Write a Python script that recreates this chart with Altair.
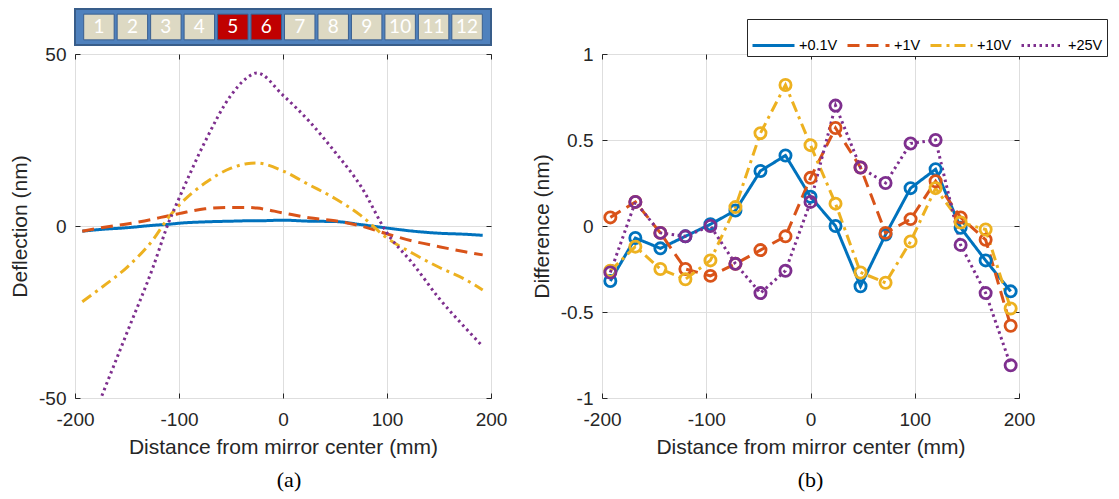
import altair as alt
import pandas as pd

# ---------------- data ----------------
series_names = ["+0.1V", "+1V", "+10V", "+25V"]
series_colors = ["#0072BD", "#D95319", "#EDB120", "#7E2F8E"]
series_dashes = [[1, 0], [12, 7], [11, 5, 3, 5], [2.5, 3.5]]

# panel (a): deflection profiles
defl_x = [-193, -175, -150, -125, -110, -100, -75, -50, -35, -25, 0, 25, 50, 75, 100, 125, 150, 175, 192]
defl_01 = [-1.5, -1.0, -0.5, 0.2, 0.5, 0.8, 1.2, 1.4, 1.5, 1.5, 1.7, 1.4, 1.3, 0.4, -0.6, -1.5, -2.1, -2.4, -2.7]
defl_1 = [-1.5, -0.5, 0.6, 2.0, 3.0, 3.6, 5.0, 5.4, 5.4, 5.2, 3.8, 2.4, 1.5, 0.0, -2.3, -4.4, -6.0, -7.5, -8.4]
defl_10 = [-22, -18, -12, -4, 2.5, 6, 12.5, 16.8, 18.1, 18.3, 16, 12, 8, 3, -3.5, -8, -12, -15.5, -18.6]
defl_25 = [-64, -50, -31, -12, 1, 8, 24.5, 38, 43, 44.5, 38, 30.5, 21.5, 11.5, -2, -11, -21, -29.5, -35]

# panel (b): differences
diff_x = [-192, -168, -144, -120, -96, -72, -48, -24, 0, 24, 48, 72, 96, 120, 144, 168, 192]
diff_01 = [-0.32, -0.07, -0.13, -0.06, 0.01, 0.09, 0.32, 0.41, 0.17, 0.00, -0.35, -0.05, 0.22, 0.33, -0.01, -0.20, -0.38]
diff_1 = [0.05, 0.14, -0.04, -0.25, -0.29, -0.22, -0.14, -0.06, 0.28, 0.57, 0.34, -0.04, 0.04, 0.26, 0.05, -0.08, -0.58]
diff_10 = [-0.26, -0.12, -0.25, -0.31, -0.20, 0.11, 0.54, 0.82, 0.47, 0.13, -0.27, -0.33, -0.09, 0.22, 0.02, -0.02, -0.48]
diff_25 = [-0.27, 0.14, -0.04, -0.06, 0.00, -0.22, -0.39, -0.26, 0.14, 0.70, 0.34, 0.25, 0.48, 0.50, -0.11, -0.39, -0.81]

# actuator indicator
cells = list(range(1, 13))
cell_state = ["off", "off", "off", "off", "on", "on", "off", "off", "off", "off", "off", "off"]

x_ticks = [-200, -100, 0, 100, 200]
defl_ticks = [-50, 0, 50]
diff_ticks = [-1, -0.5, 0, 0.5, 1]

# ---------------- tables ----------------
def long_table(xs, ys_list):
    rows = []
    for name, ys in zip(series_names, ys_list):
        for xv, yv in zip(xs, ys):
            rows.append({"x": xv, "y": yv, "series": name})
    return pd.DataFrame(rows)

defl_df = long_table(defl_x, [defl_01, defl_1, defl_10, defl_25])
diff_df = long_table(diff_x, [diff_01, diff_1, diff_10, diff_25])
bar_df = pd.DataFrame({"cell": cells, "state": cell_state, "row": ["r"] * len(cells)})

FONT = "Liberation Sans"
INK = "#262626"
GRID = "#dedede"

color_scale = alt.Scale(domain=series_names, range=series_colors)
dash_scale = alt.Scale(domain=series_names, range=series_dashes)


def bottom_axis(title):
    return alt.Axis(values=x_ticks, grid=True, gridColor=GRID, gridWidth=1, domain=False,
                    tickSize=5, offset=-5, tickColor=INK, tickWidth=1,
                    labelFont=FONT, labelFontSize=19, labelColor=INK, labelPadding=12,
                    labelExpr="datum.value + ''", labelFlush=False,
                    title=title, titleFont=FONT, titleFontSize=21, titleFontWeight="normal",
                    titleColor=INK, titlePadding=7)


def left_axis(title, values):
    return alt.Axis(values=values, grid=True, gridColor=GRID, gridWidth=1, domain=False,
                    tickSize=5, offset=-5, tickColor=INK, tickWidth=1,
                    labelFont=FONT, labelFontSize=19, labelColor=INK, labelPadding=9,
                    labelExpr="datum.value + ''", labelFlush=False,
                    title=title, titleFont=FONT, titleFontSize=21, titleFontWeight="normal",
                    titleColor=INK, titlePadding=8)


def inner_axis(orient, values):
    return alt.Axis(orient=orient, values=values, grid=False, domain=False, labels=False,
                    tickSize=5, offset=-5, tickColor=INK, tickWidth=1, title=None)


frame = alt.ViewBackground(fill="white", stroke=INK, strokeWidth=1)
PW, PH = 416, 344

# ---------------- panel (a) ----------------
left_lines = alt.Chart(defl_df).mark_line(strokeWidth=3, clip=True, interpolate="monotone").encode(
    x=alt.X("x:Q", scale=alt.Scale(domain=[-200, 200], nice=False), axis=bottom_axis("Distance from mirror center (mm)")),
    y=alt.Y("y:Q", scale=alt.Scale(domain=[-50, 50], nice=False), axis=left_axis("Deflection (nm)", defl_ticks)),
    color=alt.Color("series:N", scale=color_scale, legend=None),
    strokeDash=alt.StrokeDash("series:N", scale=dash_scale, legend=None),
)
left_ticks = alt.Chart(defl_df).mark_point(opacity=0, clip=True).encode(
    x=alt.X("x:Q", scale=alt.Scale(domain=[-200, 200], nice=False), axis=inner_axis("top", x_ticks)),
    y=alt.Y("y:Q", scale=alt.Scale(domain=[-50, 50], nice=False), axis=inner_axis("right", defl_ticks)),
)
left = alt.layer(left_lines, left_ticks).resolve_axis(x="independent", y="independent").properties(
    width=PW, height=PH, view=frame,
    title=alt.TitleParams("(a)", orient="bottom", frame="group", font="Liberation Serif", fontSize=22,
                          fontWeight="normal", color="black", offset=13, dx=6),
)

# ---------------- panel (b) ----------------
legend = alt.Legend(orient="none", legendX=145, legendY=-35, direction="horizontal", title=None,
                    symbolType="stroke", symbolSize=1764, symbolStrokeWidth=3,
                    labelFont=FONT, labelFontSize=14.5, labelColor="black", labelOffset=3,
                    columnPadding=3, padding=4, fillColor="white", strokeColor=INK)

right_lines = alt.Chart(diff_df).mark_line(strokeWidth=3).encode(
    x=alt.X("x:Q", scale=alt.Scale(domain=[-200, 200], nice=False), axis=bottom_axis("Distance from mirror center (mm)")),
    y=alt.Y("y:Q", scale=alt.Scale(domain=[-1, 1], nice=False), axis=left_axis("Difference (nm)", diff_ticks)),
    color=alt.Color("series:N", scale=color_scale, legend=legend),
    strokeDash=alt.StrokeDash("series:N", scale=dash_scale, legend=legend),
)
right_points = alt.Chart(diff_df).mark_point(filled=False, shape="circle", size=125, strokeWidth=2.8, opacity=1).encode(
    x=alt.X("x:Q", scale=alt.Scale(domain=[-200, 200], nice=False), axis=inner_axis("top", x_ticks)),
    y=alt.Y("y:Q", scale=alt.Scale(domain=[-1, 1], nice=False), axis=inner_axis("right", diff_ticks)),
    stroke=alt.Stroke("series:N", scale=color_scale, legend=None),
)
right = alt.layer(right_lines, right_points).resolve_axis(x="independent", y="independent").properties(
    width=PW + 1, height=PH, view=frame,
    title=alt.TitleParams("(b)", orient="bottom", frame="group", font="Liberation Serif", fontSize=22,
                          fontWeight="normal", color="black", offset=13),
)

# ---------------- indicator bar ----------------
bx = alt.X("cell:O", axis=None, scale=alt.Scale(paddingInner=0.09, paddingOuter=0.26))
by = alt.Y("row:N", axis=None, scale=alt.Scale(paddingInner=0, paddingOuter=0.2))
bar_rects = alt.Chart(bar_df).mark_rect(stroke="#3A5F8F", strokeWidth=1).encode(
    x=bx, y=by,
    color=alt.Color("state:N", scale=alt.Scale(domain=["off", "on"], range=["#DDD9C3", "#C00000"]), legend=None),
)
bar_text = alt.Chart(bar_df).mark_text(color="white", font="Lato", fontSize=19).encode(
    x=bx, y=by, text="cell:O",
)
bar = alt.layer(bar_rects, bar_text).properties(
    width=PW, height=36,
    view=alt.ViewBackground(fill="#4F81BD", stroke="#385D8A", strokeWidth=2),
)

plots = alt.hconcat(left, right, spacing=111, bounds="flush").resolve_scale(
    color="independent", strokeDash="independent", stroke="independent")

chart = alt.vconcat(bar, plots, spacing=9, bounds="flush").resolve_scale(
    color="independent").properties(
    padding={"left": 1, "top": 0, "right": 0, "bottom": 0},
    background="white",
)

chart.save("out.html", embed_options={"renderer": "svg", "actions": False})
